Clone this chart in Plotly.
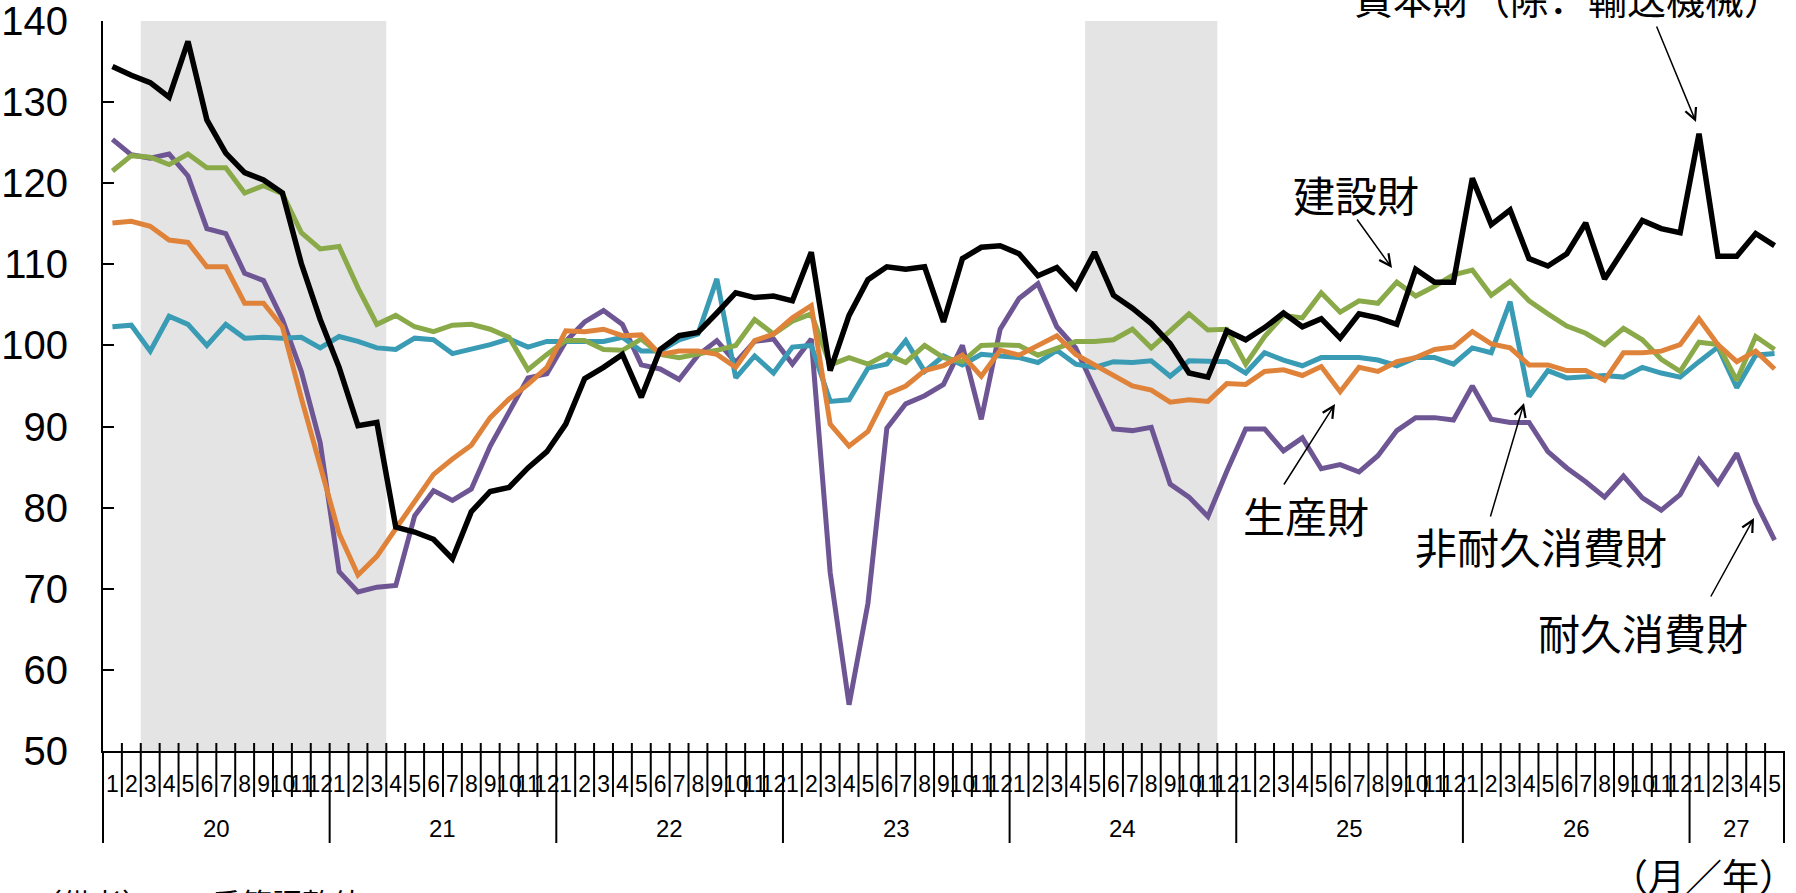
import plotly.graph_objects as go

# ---------------- data ----------------
years = ["20", "21", "22", "23", "24", "25", "26", "27"]
months_in_year = [12, 12, 12, 12, 12, 12, 12, 5]
month_labels = [str(m) for n in months_in_year for m in range(1, n + 1)]

capital_goods = [  # 資本財（除．輸送機械）
    134.4, 133.3, 132.4, 130.6, 137.5, 127.8, 123.7, 121.3, 120.4, 118.8, 110.1, 103.2,
    97.3, 90.1, 90.5, 77.6, 77.0, 76.1, 73.7, 79.5, 82.0, 82.5, 84.9, 86.9,
    90.3, 95.9, 97.3, 98.9, 93.6, 99.5, 101.2, 101.6, 104.0, 106.5, 105.9, 106.1,
    105.5, 111.5, 96.9, 103.7, 108.1, 109.7, 109.4, 109.7, 102.9, 110.7, 112.1, 112.3,
    111.3, 108.6, 109.6, 107.1, 111.5, 106.2, 104.6, 102.7, 100.2, 96.6, 96.1, 101.8,
    100.7, 102.2, 104.0, 102.3, 103.3, 100.9, 103.9, 103.4, 102.6, 109.4, 107.8, 107.8,
    120.6, 114.9, 116.7, 110.7, 109.8, 111.3, 115.1, 108.2, 111.8, 115.4, 114.4, 113.9,
    126.1, 111.0, 111.0, 113.8, 112.3,
]
construction_goods = [  # 建設財
    121.5, 123.4, 123.2, 122.3, 123.6, 121.9, 121.9, 118.8, 119.7, 118.7, 113.9, 111.9,
    112.2, 107.1, 102.6, 103.7, 102.3, 101.7, 102.5, 102.6, 102.0, 101.0, 97.0, 98.9,
    100.6, 100.6, 99.5, 99.4, 100.8, 98.9, 98.5, 98.9, 99.4, 100.0, 103.2, 101.4,
    103.0, 103.9, 97.6, 98.5, 97.7, 98.9, 97.9, 100.0, 98.5, 98.0, 100.0, 100.1,
    100.0, 98.8, 99.7, 100.5, 100.5, 100.7, 102.0, 99.7, 101.8, 103.9, 101.9, 102.0,
    97.7, 101.1, 103.7, 103.4, 106.5, 104.1, 105.5, 105.2, 107.8, 106.1, 107.3, 108.7,
    109.3, 106.2, 107.9, 105.5, 103.9, 102.4, 101.5, 100.1, 102.1, 100.7, 98.3, 96.8,
    100.4, 100.1, 95.7, 101.1, 99.5,
]
producer_goods = [  # 生産財
    115.1, 115.3, 114.7, 113.0, 112.7, 109.7, 109.7, 105.2, 105.2, 102.3, 93.5, 84.9,
    76.8, 71.7, 74.0, 77.4, 80.7, 84.1, 86.0, 87.7, 91.1, 93.4, 95.2, 97.3,
    101.8, 101.7, 102.0, 101.2, 101.3, 98.9, 99.3, 99.3, 98.9, 97.3, 100.6, 101.4,
    103.4, 104.9, 90.3, 87.6, 89.4, 94.0, 95.0, 96.9, 97.5, 98.8, 96.2, 99.4,
    98.8, 100.0, 101.2, 98.9, 97.6, 96.2, 95.0, 94.5, 93.0, 93.3, 93.1, 95.3,
    95.2, 96.8, 97.0, 96.3, 97.4, 94.3, 97.3, 96.8, 98.0, 98.5, 99.5, 99.8,
    101.7, 100.2, 99.7, 97.6, 97.6, 96.9, 96.9, 95.7, 99.1, 99.1, 99.3, 100.1,
    103.3, 100.1, 98.0, 99.3, 97.1,
]
nondurable_goods = [  # 非耐久消費財
    102.3, 102.5, 99.3, 103.6, 102.6, 100.0, 102.6, 100.9, 101.0, 100.9, 101.0, 99.7,
    101.1, 100.5, 99.7, 99.5, 100.9, 100.7, 99.0, 99.5, 100.1, 100.8, 99.8, 100.5,
    100.5, 100.4, 100.5, 101.0, 99.3, 99.3, 100.7, 101.4, 108.2, 96.0, 98.7, 96.6,
    99.8, 100.0, 93.1, 93.3, 97.2, 97.7, 100.6, 96.8, 98.7, 97.6, 98.9, 98.7,
    98.5, 97.9, 99.4, 97.7, 97.3, 98.0, 97.9, 98.1, 96.2, 98.1, 98.0, 98.0,
    96.6, 99.1, 98.2, 97.5, 98.5, 98.5, 98.5, 98.2, 97.5, 98.5, 98.5, 97.7,
    99.7, 99.1, 105.4, 93.7, 96.9, 96.0, 96.1, 96.3, 96.1, 97.3, 96.6, 96.1,
    98.0, 99.8, 94.8, 98.8, 99.0,
]
durable_goods = [  # 耐久消費財
    125.4, 123.5, 123.1, 123.6, 120.9, 114.4, 113.8, 108.9, 108.0, 103.2, 96.8, 88.0,
    72.1, 69.6, 70.2, 70.4, 79.0, 82.1, 80.9, 82.3, 87.6, 91.8, 96.0, 96.5,
    100.5, 102.9, 104.3, 102.6, 97.6, 97.1, 95.8, 98.8, 100.6, 97.9, 100.5, 100.8,
    97.7, 100.8, 72.0, 55.7, 68.2, 89.8, 92.8, 93.8, 95.2, 100.0, 90.9, 102.0,
    105.8, 107.6, 102.3, 99.7, 94.7, 89.7, 89.5, 89.9, 82.9, 81.3, 78.9, 84.5,
    89.7, 89.7, 87.0, 88.6, 84.8, 85.3, 84.4, 86.4, 89.5, 91.1, 91.1, 90.8,
    95.0, 90.9, 90.5, 90.5, 86.9, 84.9, 83.2, 81.3, 83.9, 81.2, 79.7, 81.6,
    85.9, 83.0, 86.7, 80.7, 76.0,
]

# shaded periods (first and last month index, inclusive)
shade_periods = [(2, 14), (52, 58)]

y_ticks = [50, 60, 70, 80, 90, 100, 110, 120, 130, 140]

# ---------------- styling ----------------
NUM_FONT = "Liberation Sans, Arial, sans-serif"
JP_FONT = "Noto Sans CJK JP, Noto Sans CJK SC, sans-serif"

W, H = 1796, 893
ML, MR, MT, MB = 103, 12, 21, 142
PW, PH = W - ML - MR, H - MT - MB

n = len(month_labels)
x = list(range(n))


def px_to_paper(xp, yp):
    return (xp - ML) / PW, (H - MB - yp) / PH


series = [
    ("耐久消費財", durable_goods, "#6E5694", 5),
    ("非耐久消費財", nondurable_goods, "#3A9BB5", 5),
    ("建設財", construction_goods, "#8AAA4A", 5),
    ("生産財", producer_goods, "#E0833A", 5),
    ("資本財（除．輸送機械）", capital_goods, "#000000", 5.5),
]

fig = go.Figure()
for name, vals, color, w in series:
    fig.add_trace(go.Scatter(x=x, y=vals, mode="lines", name=name,
                             line=dict(color=color, width=w), hoverinfo="skip"))

shapes = []
for a, b in shade_periods:
    shapes.append(dict(type="rect", xref="x", yref="paper", x0=a - 0.5, x1=b + 0.5,
                       y0=0, y1=1, fillcolor="#E4E4E4", line=dict(width=0), layer="below"))

# month / year separators on the category axis
year_bounds = [0]
for m in months_in_year:
    year_bounds.append(year_bounds[-1] + m)
up = 8 / PH
for k in range(n + 1):
    xp = k / n
    if k in year_bounds:
        y0 = up if 0 < k < n else 0
        y1 = -92 / PH
    else:
        y0, y1 = up, -46 / PH
    shapes.append(dict(type="line", xref="paper", yref="paper", x0=xp, x1=xp,
                       y0=y0, y1=y1, line=dict(color="black", width=2), layer="above"))

annotations = []
# year labels
for i, yr in enumerate(years):
    cx = (year_bounds[i] + year_bounds[i + 1] - 1) / 2
    annotations.append(dict(x=cx, y=-77 / PH, xref="x", yref="paper", text=yr,
                            showarrow=False, xanchor="center", yanchor="middle",
                            font=dict(family=NUM_FONT, size=24, color="black")))

# unit label
ux, uy = px_to_paper(1703, 875)
annotations.append(dict(x=ux, y=uy, xref="paper", yref="paper", text="（月／年）",
                        showarrow=False, xanchor="center", yanchor="middle",
                        font=dict(family=JP_FONT, size=37, color="black")))

# note at bottom (cut off by page edge, as in the original)
nx, ny = px_to_paper(30, 902)
annotations.append(dict(x=nx, y=ny, xref="paper", yref="paper",
                        text="（備考）１．季節調整値。",
                        showarrow=False, xanchor="left", yanchor="middle",
                        font=dict(family=JP_FONT, size=30, color="black")))

# series labels
labels = [
    ("資本財（除．輸送機械）", 1352, -3, "left"),
    ("建設財", 1356, 193, "center"),
    ("生産財", 1306, 514, "center"),
    ("非耐久消費財", 1541, 545, "center"),
    ("耐久消費財", 1643, 631, "center"),
]
for txt, lx, ly, anc in labels:
    px_, py_ = px_to_paper(lx, ly)
    annotations.append(dict(x=px_, y=py_, xref="paper", yref="paper", text=txt,
                            showarrow=False, xanchor=anc, yanchor="middle",
                            font=dict(family=JP_FONT, size=42 if anc == "center" else 39,
                                      color="black")))

# arrows: (start_x, start_y, tip_x, tip_y) in page pixels
arrows = [
    (1656, 25, 1696, 122),
    (1356, 218, 1392, 268),
    (1283, 486, 1335, 404),
    (1490, 518, 1524, 403),
    (1710, 598, 1754, 518),
]
for sx, sy, tx, ty in arrows:
    px_, py_ = px_to_paper(tx, ty)
    annotations.append(dict(x=px_, y=py_, xref="paper", yref="paper", text="",
                            showarrow=True, ax=sx - tx, ay=sy - ty, axref="pixel", ayref="pixel",
                            arrowhead=5, arrowsize=1.5, arrowwidth=1.5, arrowcolor="black",
                            standoff=0))

fig.update_layout(
    template="none",
    width=W, height=H,
    margin=dict(l=ML, r=MR, t=MT, b=MB, pad=0),
    paper_bgcolor="white", plot_bgcolor="white",
    showlegend=False,
    shapes=shapes, annotations=annotations,
    xaxis=dict(range=[-0.5, n - 0.5], tickmode="array", tickvals=x, ticktext=month_labels,
               ticks="", showline=True, linecolor="black", linewidth=2, showgrid=False,
               zeroline=False, tickangle=0, ticklabelstandoff=11, automargin=False,
               ticklabeloverflow="allow",
               tickfont=dict(family=NUM_FONT, size=23, color="black")),
    yaxis=dict(range=[50, 140], tickmode="array", tickvals=y_ticks,
               ticks="inside", ticklen=11, tickwidth=2, tickcolor="black",
               showline=True, linecolor="black", linewidth=2, showgrid=False,
               zeroline=False, ticklabelstandoff=25, automargin=False,
               ticklabeloverflow="allow",
               tickfont=dict(family=NUM_FONT, size=40, color="black")),
)

fig.write_html(
    "out.html",
    config={"displayModeBar": False},
    post_script="document.body.style.margin='0';document.body.style.padding='0';"
                "document.body.style.overflow='hidden';",
)
